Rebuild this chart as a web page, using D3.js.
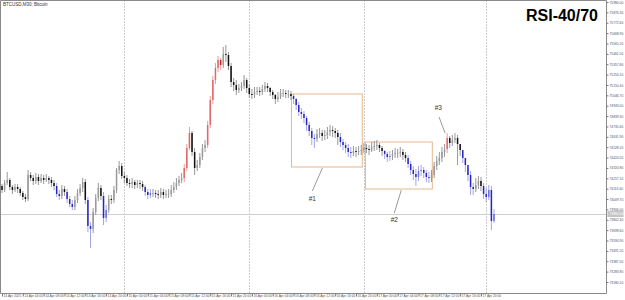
<!DOCTYPE html>
<html>
<head>
<meta charset="utf-8">
<script src="https://cdn.jsdelivr.net/npm/d3@7"></script>
<style>
  body { margin: 0; background: #fff; }
  svg { display: block; font-family: "Liberation Sans", Arial, sans-serif; }
</style>
</head>
<body>
<div id="chart"></div>
<script>
// ---- data ----
const symbolLabel = "BTCUSD,M30:  Bitcoin";
const title = "RSI-40/70";

const firstOpen = 74140;
const closes = [
  74100,74170,74200,74130,74100,74130,74110,74070,74030,74010,
  74250,74220,74190,74230,74190,74220,74200,74220,74200,74170,
  74140,74060,74040,74110,74080,74010,73960,73930,74000,74070,
  74120,74180,74000,73740,73710,73880,74020,74120,74040,73820,
  73900,74010,74000,74100,74300,74340,74240,74220,74170,74160,
  74180,74150,74170,74160,74130,74080,74050,74070,74070,74060,
  74050,74080,74050,74060,74060,74100,74130,74170,74200,74220,
  74320,74520,74670,74480,74320,74350,74430,74520,74550,74750,
  75000,75200,75320,75400,75350,75460,75450,75340,75180,75150,
  75100,75120,75140,75200,75120,75060,75050,75080,75090,75080,
  75110,75140,75120,75080,75050,75010,75030,75070,75070,75060,
  75060,75040,75010,74950,74880,74860,74820,74750,74690,74620,
  74610,74660,74670,74640,74650,74680,74700,74690,74670,74630,
  74580,74550,74520,74480,74470,74490,74480,74490,74500,74520,
  74510,74500,74530,74540,74550,74520,74490,74460,74430,74440,
  74460,74470,74470,74480,74450,74420,74360,74300,74260,74230,
  74290,74300,74270,74230,74220,74250,74340,74390,74420,74480,
  74510,74620,74570,74600,74620,74560,74500,74420,74350,74250,
  74130,74110,74150,74190,74140,74060,74030,74100,73790,73860
];
const highs = [
  74160,74200,74280,74220,74150,74160,74160,74130,74090,74060,
  74300,74280,74250,74270,74260,74260,74250,74260,74240,74230,
  74200,74170,74100,74150,74140,74110,74040,74000,74040,74110,
  74160,74220,74210,74030,73780,73920,74060,74170,74150,74080,
  73950,74050,74050,74140,74320,74390,74370,74280,74250,74210,
  74220,74200,74200,74200,74190,74150,74110,74110,74110,74100,
  74100,74120,74110,74100,74110,74150,74180,74220,74240,74270,
  74360,74560,74730,74690,74520,74400,74470,74560,74600,74790,
  75040,75240,75370,75440,75420,75530,75550,75480,75370,75220,
  75200,75160,75180,75250,75220,75160,75110,75130,75130,75130,
  75150,75180,75170,75130,75100,75060,75080,75110,75110,75100,
  75100,75090,75060,75020,74980,74920,74890,74840,74780,74720,
  74660,74710,74720,74700,74700,74730,74750,74740,74720,74700,
  74670,74610,74580,74560,74530,74540,74530,74540,74550,74570,
  74560,74550,74580,74590,74600,74570,74540,74500,74480,74490,
  74500,74520,74510,74530,74510,74480,74450,74390,74340,74310,
  74340,74350,74330,74300,74280,74300,74380,74440,74480,74530,
  74560,74670,74640,74650,74670,74650,74550,74480,74400,74320,
  74290,74170,74220,74240,74230,74170,74120,74150,74140,73910
];
const lows = [
  74070,74080,74150,74100,74060,74080,74070,74040,74000,73980,
  73990,74190,74150,74160,74150,74170,74160,74180,74160,74130,
  74100,74030,74000,74010,74040,73970,73930,73900,73900,73970,
  74040,74080,73960,73680,73520,73670,73850,73990,74000,73750,
  73780,73870,73960,73970,74070,74260,74210,74170,74140,74120,
  74120,74110,74120,74110,74090,74040,74010,74020,74030,74020,
  74010,74020,74010,74020,74020,74030,74070,74100,74140,74170,
  74180,74290,74500,74440,74250,74290,74320,74400,74480,74520,
  74720,74960,75160,75280,75300,75320,75380,75300,75130,75090,
  75050,75070,75090,75110,75070,75020,75010,75020,75050,75040,
  75050,75080,75080,75040,75010,74960,74980,75010,75030,75020,
  75020,75000,74960,74900,74840,74810,74770,74690,74640,74550,
  74520,74580,74620,74590,74600,74610,74640,74630,74620,74550,
  74530,74500,74470,74430,74420,74440,74430,74450,74450,74470,
  74470,74450,74480,74490,74500,74480,74440,74410,74380,74390,
  74400,74420,74420,74430,74400,74380,74320,74250,74200,74140,
  74190,74240,74220,74180,74170,74180,74220,74300,74350,74380,
  74430,74470,74520,74540,74570,74350,74440,74370,74280,74190,
  74050,74050,74080,74110,74090,74010,73980,74000,73700,73770
];
// k = normal, b = RSI below 40, r = RSI above 70
const zones = (
  "kkkkkkkkkk" + "kkkkkkkkkk" + "kbbkkbbbkk" + "kkkbbkkkkb" + "bkkkkkkkkk" +
  "kkkkkbbbkk" + "kkkkkkkkkk" + "rrrkkkkkkr" + "rrrrrkkkkk" + "kkkkkkkkkk" +
  "kkkkkkkkkk" + "kkbbbbbbbb" + "bkkkkkkkkk" + "bbbbbkkkkk" + "kkkkkkkbbb" +
  "kkkkkkbbbb" + "bbbbbkkkkk" + "krkkkkkbbb" + "bbkkkbbbbb"
).split("");

const timeLabels = [
  "14 Apr 2025","14 Apr 04:00","14 Apr 08:00","14 Apr 12:00","14 Apr 16:00","14 Apr 20:00",
  "15 Apr 00:00","15 Apr 04:00","15 Apr 08:00","15 Apr 12:00","15 Apr 16:00","15 Apr 20:00",
  "16 Apr 00:00","16 Apr 04:00","16 Apr 08:00","16 Apr 12:00","16 Apr 16:00","16 Apr 20:00",
  "17 Apr 00:00","17 Apr 04:00","17 Apr 08:00","17 Apr 12:00","17 Apr 16:00","17 Apr 20:00"
];
const barsPerTimeLabel = 8;
const priceTicks = [
  75980.00,75876.30,75772.60,75668.90,75565.20,75461.50,75357.80,75254.10,75150.40,75046.70,
  74943.00,74839.30,74735.60,74631.90,74528.20,74424.50,74320.80,74217.10,74113.40,74009.70,
  73906.00,73802.30,73698.60,73594.90,73491.20,73387.50,73283.80,73180.10
];
const daySeparators = [47, 95, 139, 186];

// annotation boxes: bar index range and price range
const boxes = [
  { from: 111.2, to: 138.4, top: 75060, bottom: 74330 },
  { from: 139.6, to: 165.3, top: 74580, bottom: 74110 }
];
const notes = [
  { text: "#1", at: [119.2, 73990], line: [[123.1, 74320], [119.2, 74090]] },
  { text: "#2", at: [150.7, 73780], line: [[153.4, 74100], [150.7, 73870]] },
  { text: "#3", at: [167.6, 74900], line: [[167.9, 74830], [170.2, 74670]] }
];

// ---- chart ----
const width = 625, height = 300;
const plot = { left: 0.5, top: 0.5, right: 606.5, bottom: 293.5 };
const axisFont = "3.3px";

const svg = d3.select("#chart")
  .append("svg")
  .attr("width", width)
  .attr("height", height);

const x = d3.scaleLinear().domain([0, closes.length - 1]).range([2, 494]);
const y = d3.scaleLinear().domain([76000, 73000]).range([0, 300]);

const colors = {
  k: { down: "#111111", up: "#9a9a9a", wick: "#8c8c8c" },
  b: { down: "#2626c4", up: "#6f6fdc", wick: "#9a9ae6" },
  r: { down: "#cc1c1c", up: "#e06868", wick: "#e69090" }
};

// day separators
svg.append("g")
  .selectAll("line")
  .data(daySeparators)
  .enter()
    .append("line")
    .attr("x1", d => Math.round(x(d)) + 0.5)
    .attr("x2", d => Math.round(x(d)) + 0.5)
    .attr("y1", plot.top)
    .attr("y2", plot.bottom)
    .attr("stroke", "#9a9a9a")
    .attr("stroke-width", 1)
    .attr("stroke-dasharray", "1,2");

// current price line
const lastClose = closes[closes.length - 1];
svg.append("line")
  .attr("x1", plot.left)
  .attr("x2", plot.right)
  .attr("y1", Math.round(y(lastClose)) + 0.5)
  .attr("y2", Math.round(y(lastClose)) + 0.5)
  .attr("stroke", "#cfcfcf");

// boxes
svg.append("g")
  .selectAll("rect")
  .data(boxes)
  .enter()
    .append("rect")
    .attr("x", d => x(d.from))
    .attr("y", d => y(d.top))
    .attr("width", d => x(d.to) - x(d.from))
    .attr("height", d => y(d.bottom) - y(d.top))
    .attr("fill", "none")
    .attr("stroke", "#e6b88f")
    .attr("stroke-width", 1);

// candles
const bars = d3.range(closes.length).map(i => ({
  i: i,
  open: i === 0 ? firstOpen : closes[i - 1],
  close: closes[i],
  high: highs[i],
  low: lows[i],
  zone: zones[i]
}));

let candles = svg.append("g")
  .selectAll("g")
  .data(bars)
  .enter()
    .append("g");

candles.append("line")
  .attr("x1", d => x(d.i))
  .attr("x2", d => x(d.i))
  .attr("y1", d => y(d.high))
  .attr("y2", d => y(d.low))
  .attr("stroke", d => colors[d.zone].wick)
  .attr("stroke-width", 0.9);

candles.append("rect")
  .attr("x", d => x(d.i) - 0.75)
  .attr("width", 1.5)
  .attr("y", d => y(Math.max(d.open, d.close)))
  .attr("height", d => Math.max(0.8, Math.abs(y(d.open) - y(d.close))))
  .attr("fill", d => d.close < d.open ? colors[d.zone].down : colors[d.zone].up);

// annotation labels
let noteG = svg.append("g");
noteG.selectAll("line")
  .data(notes)
  .enter()
    .append("line")
    .attr("x1", d => x(d.line[0][0]))
    .attr("y1", d => y(d.line[0][1]))
    .attr("x2", d => x(d.line[1][0]))
    .attr("y2", d => y(d.line[1][1]))
    .attr("stroke", "#555")
    .attr("stroke-width", 0.6);
noteG.selectAll("text")
  .data(notes)
  .enter()
    .append("text")
    .attr("x", d => x(d.at[0]))
    .attr("y", d => y(d.at[1]))
    .attr("text-anchor", "middle")
    .attr("font-size", "6.5px")
    .attr("fill", "#333")
    .text(d => d.text);

// frame
svg.append("path")
  .attr("d", `M${plot.left},${plot.bottom}V${plot.top}H${plot.right}V${plot.bottom}H${plot.left}`)
  .attr("fill", "none")
  .attr("stroke", "#8a8a8a");

// price axis
let yAxis = svg.append("g")
  .attr("transform", `translate(${plot.right},0)`)
  .call(d3.axisRight(y).tickValues(priceTicks).tickSize(2).tickPadding(1).tickFormat(d3.format(".2f")));
yAxis.select(".domain").remove();
yAxis.selectAll("line").attr("stroke", "#777");
yAxis.selectAll("text").attr("font-size", axisFont).attr("fill", "#555");

// current price tag
let tag = svg.append("g")
  .attr("transform", `translate(${plot.right},${y(lastClose)})`);
tag.append("rect")
  .attr("x", 1).attr("y", -3).attr("width", 16).attr("height", 6)
  .attr("fill", "#c4c4c4");
tag.append("text")
  .attr("x", 3).attr("dy", "0.32em")
  .attr("font-size", axisFont).attr("fill", "#fff")
  .text(d3.format(".2f")(lastClose));

// time axis
let xAxis = svg.append("g")
  .attr("transform", `translate(0,${plot.bottom})`)
  .call(d3.axisBottom(x)
    .tickValues(timeLabels.map((d, k) => k * barsPerTimeLabel))
    .tickSize(3)
    .tickFormat((d, k) => timeLabels[k]));
xAxis.select(".domain").remove();
xAxis.selectAll("line").attr("stroke", "#777");
xAxis.selectAll("text")
  .attr("text-anchor", "start")
  .attr("dx", "1px")
  .attr("y", 1.2)
  .attr("font-size", axisFont)
  .attr("fill", "#555");

// labels
svg.append("text")
  .attr("x", 3)
  .attr("y", 6)
  .attr("font-size", "4.5px")
  .attr("fill", "#333")
  .text(symbolLabel);

svg.append("text")
  .attr("x", 598)
  .attr("y", 21)
  .attr("text-anchor", "end")
  .attr("font-size", "16px")
  .attr("font-weight", "bold")
  .attr("fill", "#000")
  .text(title);
</script>
</body>
</html>
